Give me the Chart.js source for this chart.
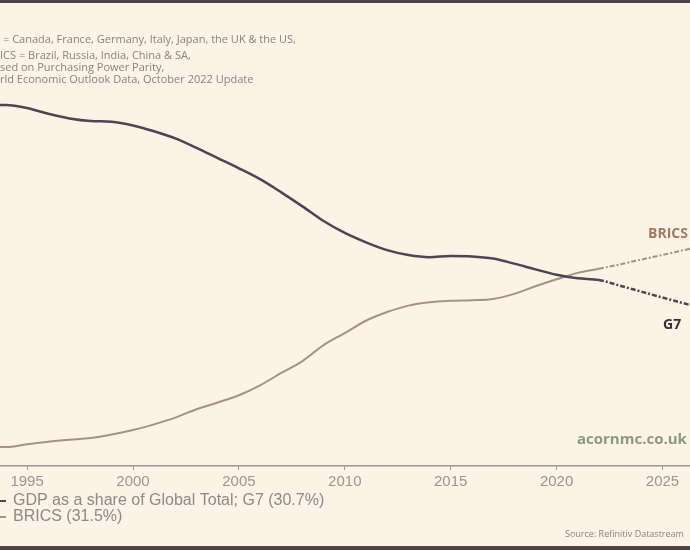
<!DOCTYPE html>
<html>
<head>
<meta charset="utf-8">
<script src="https://cdn.jsdelivr.net/npm/chart.js@4.4.0/dist/chart.umd.min.js"></script>
<style>
  html, body { margin: 0; padding: 0; background: #fcf2e5; }
  #wrap { width: 690px; height: 550px; position: relative; }
</style>
</head>
<body>
<div id="wrap"><canvas id="c" width="690" height="550"></canvas></div>
<script>
// ---- data ----
const years = [1993,1994,1995,1996,1997,1998,1999,2000,2001,2002,2003,2004,2005,2006,2007,2008,2009,2010,2011,2012,2013,2014,2015,2016,2017,2018,2019,2020,2021,2022,2023,2024,2025,2026,2027];
const g7Share = [43.2,43.2,42.99,42.57,42.24,42.06,42.01,41.74,41.32,40.82,40.14,39.41,38.68,37.9,36.96,35.96,34.91,34.06,33.39,32.83,32.48,32.33,32.41,32.38,32.23,31.87,31.46,31.08,30.82,30.7,30.29,29.87,29.45,29.04,28.61];
const bricsShare = [18.77,18.77,18.97,19.15,19.29,19.41,19.66,19.98,20.39,20.87,21.47,21.95,22.47,23.18,24.06,24.91,26.05,26.91,27.79,28.41,28.87,29.11,29.21,29.26,29.35,29.71,30.25,30.75,31.21,31.5,31.82,32.16,32.49,32.83,33.16];
const tickYears = [1995,2000,2005,2010,2015,2020,2025];
const projectionStart = 2022;
const noteLines = [
  "= Canada, France, Germany, Italy, Japan, the UK & the US,",
  "ICS = Brazil, Russia, India, China & SA,",
  "sed on Purchasing Power Parity,",
  "rld Economic Outlook Data, October 2022 Update"
];
const legendLabels = ["GDP as a share of Global Total; G7 (30.7%)", "BRICS (31.5%)"];
const seriesNames = ["G7", "BRICS"];

const G7_COLOR = '#4c4552';
const BRICS_COLOR = '#a49383';

const toPts = arr => years.map((yr, i) => ({ x: yr, y: arr[i] }));
const dashSeg = ctx => years[ctx.p0DataIndex] >= projectionStart ? [5, 2, 2, 2] : undefined;

const decor = {
  id: 'decor',
  beforeDraw(chart) {
    const c = chart.ctx;
    c.save();
    c.fillStyle = '#fcf2e5';
    c.fillRect(0, 0, chart.width, chart.height);
    c.restore();
  },
  afterDraw(chart) {
    const c = chart.ctx;
    c.save();
    // frame bands
    c.fillStyle = '#4a4444';
    c.fillRect(0, 0, chart.width, 3);
    c.fillRect(0, 546, chart.width, 4);
    // notes
    c.fillStyle = '#8a837e';
    c.font = '11px "Open Sans"';
    c.textBaseline = 'middle';
    c.textAlign = 'left';
    const noteY = [40, 56, 68, 80];
    const noteX = [3, 0, 0, 0];
    noteLines.forEach((t, i) => c.fillText(t, noteX[i], noteY[i]));
    // series labels
    c.font = 'bold 14px "Open Sans"';
    c.fillStyle = '#a07c66';
    c.fillText(seriesNames[1], 648, 234);
    c.fillStyle = '#333033';
    c.fillText(seriesNames[0], 663, 325);
    // site
    c.font = 'bold 15px "Open Sans"';
    c.fillStyle = '#8a9a82';
    c.fillText('acornmc.co.uk', 577, 440);
    // legend
    c.font = '16px "Liberation Sans"';
    c.fillStyle = '#8a8a8a';
    c.fillText(legendLabels[0], 13, 501);
    c.fillText(legendLabels[1], 13, 517);
    c.lineWidth = 2;
    c.strokeStyle = G7_COLOR;
    c.beginPath(); c.moveTo(0, 501); c.lineTo(6, 501); c.stroke();
    c.strokeStyle = BRICS_COLOR;
    c.beginPath(); c.moveTo(0, 517); c.lineTo(6, 517); c.stroke();
    // source
    c.font = '9px "Open Sans"';
    c.fillStyle = '#8a837e';
    c.fillText('Source: Refinitiv Datastream', 565, 534);
    c.restore();
  }
};

new Chart(document.getElementById('c'), {
  type: 'line',
  data: {
    datasets: [
      {
        label: seriesNames[0],
        data: toPts(g7Share),
        borderColor: G7_COLOR,
        borderWidth: 2.5,
        pointRadius: 0,
        cubicInterpolationMode: 'monotone',
        segment: { borderDash: dashSeg }
      },
      {
        label: seriesNames[1],
        data: toPts(bricsShare),
        borderColor: BRICS_COLOR,
        borderWidth: 2,
        pointRadius: 0,
        cubicInterpolationMode: 'monotone',
        segment: { borderDash: dashSeg }
      }
    ]
  },
  options: {
    responsive: false,
    animation: false,
    events: [],
    layout: { padding: 0 },
    plugins: { legend: { display: false }, tooltip: { enabled: false } },
    scales: {
      x: {
        type: 'linear',
        min: 1993.72,
        max: 2026.3,
        afterBuildTicks: s => { s.ticks = tickYears.map(v => ({ value: v })); },
        afterFit: s => { s.height = 84; },
        border: { display: true, color: '#9a9692', width: 1.5 },
        grid: { drawOnChartArea: false, drawTicks: true, tickLength: 4, color: '#9a9692' },
        ticks: {
          color: '#9a9692',
          font: { family: 'Liberation Sans', size: 15 },
          padding: 3,
          maxRotation: 0,
          callback: v => String(v)
        }
      },
      y: {
        display: false,
        min: 17.414,
        max: 50.7
      }
    }
  },
  plugins: [decor]
});
</script>
</body>
</html>
